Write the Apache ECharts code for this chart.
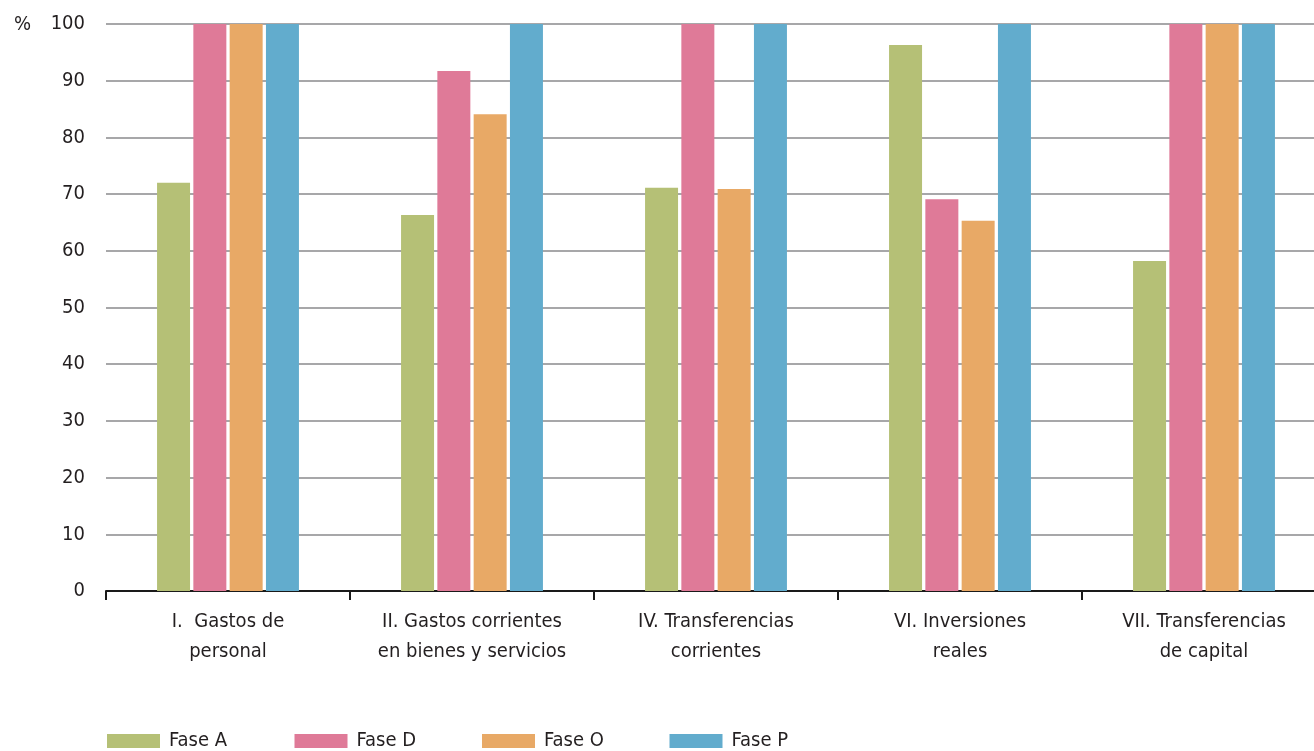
<!DOCTYPE html>
<html><head><meta charset="utf-8">
<script src="https://cdn.jsdelivr.net/npm/echarts@6/dist/echarts.min.js"></script>
<style>html,body{margin:0;padding:0;background:#fff;overflow:hidden}#c{width:1326px;height:751px}</style>
</head><body><div id="c"></div>
<script>
const categories = ["I.  Gastos de\npersonal", "II. Gastos corrientes\nen bienes y servicios", "IV. Transferencias\ncorrientes", "VI. Inversiones\nreales", "VII. Transferencias\nde capital"];
const seriesNames = ["Fase A", "Fase D", "Fase O", "Fase P"];
const faseA = [72.0, 66.3, 71.1, 96.3, 58.2];
const faseD = [100, 91.7, 100, 69.1, 100];
const faseO = [100, 84.1, 70.9, 65.3, 100];
const faseP = [100, 100, 100, 100, 100];
const colors = ["#b5c076", "#df7a98", "#e8a966", "#62accd"];
const yTicks = [0, 10, 20, 30, 40, 50, 60, 70, 80, 90, 100];

const FONT = '"Liberation Sans Narrow","DejaVu Sans Condensed","Roboto",sans-serif';
const chart = echarts.init(document.getElementById('c'), null, {renderer: 'canvas'});
const data = [faseA, faseD, faseO, faseP];
const legendLefts = [107, 294.5, 482, 669.5];
chart.setOption({
  animation: false,
  color: colors,
  textStyle: {fontFamily: FONT, color: '#231f20'},
  grid: {left: 106, width: 1220, top: 24, height: 567, containLabel: false},
  legend: seriesNames.map((n, i) => ({
    left: legendLefts[i], top: 731, padding: 0, itemWidth: 53, itemHeight: 14,
    icon: 'rect', data: [n],
    textStyle: {fontFamily: FONT, fontSize: 20, color: '#231f20', padding: [0, 0, 0, 4]}
  })),
  graphic: [{type: 'text', left: 14, top: 15, style: {text: '%', font: '20px ' + FONT, fill: '#231f20'}}],
  xAxis: {
    type: 'category', data: categories,
    axisLine: {lineStyle: {color: '#1a1a1a', width: 2}},
    axisTick: {show: true, length: 9, lineStyle: {color: '#1a1a1a', width: 2}},
    axisLabel: {fontFamily: FONT, fontSize: 20, color: '#231f20', lineHeight: 30, margin: 16, interval: 0}
  },
  yAxis: {
    type: 'value', min: yTicks[0], max: yTicks[yTicks.length - 1], interval: 10,
    axisLine: {show: false}, axisTick: {show: false},
    splitLine: {lineStyle: {color: '#a7a7a9', width: 2}},
    axisLabel: {fontFamily: FONT, fontSize: 20, color: '#231f20', margin: 21}
  },
  series: seriesNames.map((n, i) => ({
    name: n, type: 'bar', data: data[i], barWidth: 33, barGap: '10%',
    itemStyle: {color: colors[i]}
  }))
});
</script></body></html>
